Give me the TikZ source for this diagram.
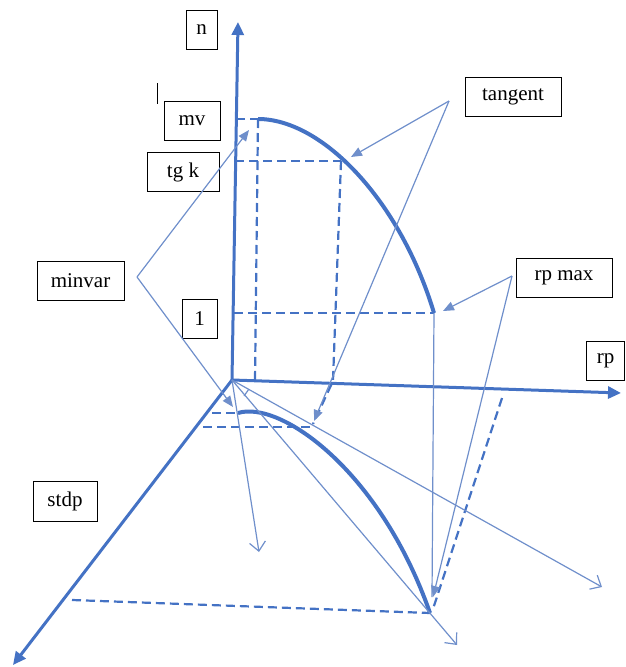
\documentclass[tikz,border=0pt]{standalone}
\usepackage{fontspec}
\setmainfont{Liberation Serif}
\usetikzlibrary{arrows.meta}
\definecolor{axisblue}{HTML}{4472C4}
\definecolor{thinblue}{HTML}{6F8FCB}
\begin{document}
\begin{tikzpicture}[x=1pt,y=-1pt,
  lbl/.style={draw=black, line width=0.8pt, inner sep=0pt, fill=white, font=\fontsize{21}{25}\selectfont},
  axisline/.style={draw=axisblue, line width=3pt, -{Triangle[length=13pt,width=12pt]}},
  boldcurve/.style={draw=axisblue, line width=4pt},
  dsh/.style={draw=axisblue, line width=2.2pt, dash pattern=on 9pt off 5pt},
  thinl/.style={draw=thinblue, line width=1.2pt},
  fhead/.style={-{Triangle[length=11pt,width=9pt]}},
  ohead/.style={-{Straight Barb[length=9pt,width=16pt]}}
]
\useasboundingbox (0,0) rectangle (625,667);

% labels
\node[lbl, minimum width=31pt, minimum height=39pt] (n) at (201.5,29.5) {n};
\node[lbl, minimum width=56pt, minimum height=39pt] (mv) at (192,120.5) {mv};
\node[lbl, minimum width=72pt, minimum height=39pt] (tgk) at (183,172) {tg k};
\node[lbl, minimum width=87pt, minimum height=39pt] (minvar) at (80.5,280.5) {minvar};
\node[lbl, minimum width=35pt, minimum height=39pt] (one) at (199.5,318.5) {1};
\node[lbl, minimum width=96pt, minimum height=39pt] (tangent) at (513,96.5) {tangent};
\node[lbl, minimum width=96pt, minimum height=39pt] (rpmax) at (564,277.5) {rp max};
\node[lbl, minimum width=38pt, minimum height=39pt] (rp) at (605.5,360.5) {rp};
\node[lbl, minimum width=64pt, minimum height=40pt] (stdp) at (65,501) {stdp};

% stray bar
\coordinate (bar1) at (157,83);
\coordinate (bar2) at (157,104);
\draw[line width=0.9pt] (bar1) -- (bar2);

% key points
\coordinate (O) at (232,380);
\coordinate (ntip) at (238,22);
\coordinate (rptip) at (621,393);
\coordinate (sttip) at (13,665);
\coordinate (mvpt) at (258,119);
\coordinate (tgpt) at (341,161);
\coordinate (rmx) at (434,313);
\coordinate (lmv) at (238,413);
\coordinate (ltg) at (313,424);
\coordinate (lend) at (430,613);

% dashed helper lines (upper)
\draw[dsh] (236,119) -- (mvpt);
\draw[dsh] (mvpt) -- (255,381);
\draw[dsh] (235,161) -- (tgpt);
\draw[dsh] (tgpt) -- (333,381) -- (ltg);
\draw[dsh] (234,313) -- (rmx);
% dashed helper lines (lower)
\draw[dsh] (212,413) -- (lmv);
\draw[dsh] (203,427) -- (310,427);
\draw[dsh] (72,600) -- (lend);
\draw[dsh] (502,398) -- (433,609);

% axes
\draw[axisline] (O) -- (ntip);
\draw[axisline] (O) -- (rptip);
\draw[axisline] (O) -- (sttip);

% curves
\draw[boldcurve] (mvpt) .. controls (322,119) and (400,200) .. (rmx);
\draw[boldcurve] (lmv) .. controls (280,400) and (380,470) .. (lend);

% thin lines from origin
\draw[thinl, ohead] (O) -- (259,552);
\draw[thinl, ohead] (O) -- (457,645);
\draw[thinl, ohead] (O) -- (602,587);
\draw[thinl] (244,396) -- (249,389);

% vertical from rp max point
\draw[thinl] (rmx) -- (432,597);

% callout lines
\coordinate (jmin) at (137,277);
\coordinate (jtan) at (449,101);
\coordinate (jrp) at (512,276);
\draw[thinl, fhead] (jmin) -- (249,130);
\draw[thinl, fhead] (jmin) -- (233,407);
\draw[thinl, fhead] (jtan) -- (351,157);
\draw[thinl, fhead] (jtan) -- (314,421);
\draw[thinl, fhead] (jrp) -- (443,311);
\draw[thinl, fhead] (jrp) -- (433,597);
\end{tikzpicture}
\end{document}
